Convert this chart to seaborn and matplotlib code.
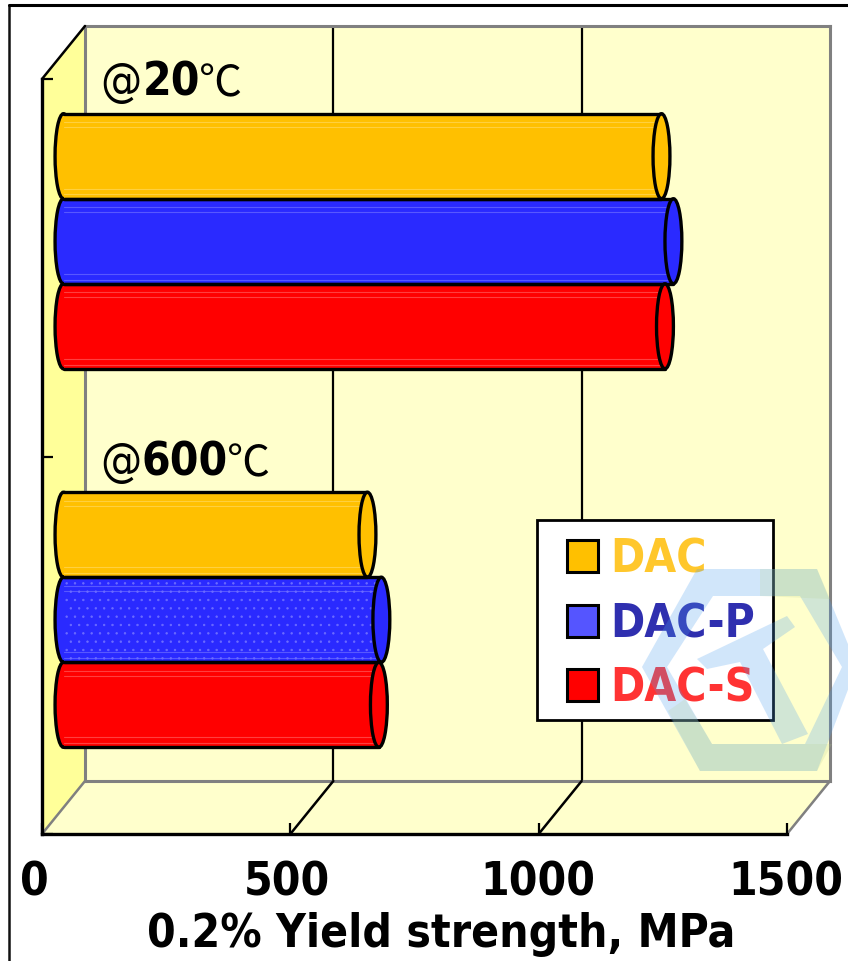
import matplotlib
matplotlib.use('Agg')
import matplotlib.pyplot as plt
from matplotlib.patches import Ellipse, PathPatch, Polygon, Rectangle
from matplotlib.path import Path
from matplotlib.lines import Line2D
from matplotlib.patches import ConnectionPatch
import pandas as pd
import seaborn as sns

temps = ['@20', '@600']
alloys = ['DAC', 'DAC-P', 'DAC-S']
strength_20 = [1204, 1228, 1211]
strength_600 = [612, 640, 635]
xticks = [0, 500, 1000, 1500]
xlabel = '0.2% Yield strength, MPa'

bar_colors = ['#FFC000', '#2A2AFF', '#FF0000']
swatch_colors = ['#FFC000', '#5555FF', '#FF0000']
text_colors = ['#FFC72C', '#2F2FAF', '#FF3333']
shine_colors = ['#FFD75A', '#6C6CFF', '#FF5A5A']

W, H = 848, 962
sns.set_theme(style='white')
plt.rcParams['font.family'] = ['DejaVu Sans']
plt.rcParams['hatch.linewidth'] = 0.5

df = pd.DataFrame({
    'temp': [temps[0]] * 3 + [temps[1]] * 3,
    'alloy': alloys * 2,
    'strength': strength_20 + strength_600,
})


# pixel box of the reference -> figure fractions
def box(x0, y0, x1, y1):
    return [x0 / W, 1 - y1 / H, (x1 - x0) / W, (y1 - y0) / H]


def px(x, y):
    return x / W, 1 - y / H


fig = plt.figure(figsize=(W / 100, H / 100), dpi=100, facecolor='white')

# back wall with the gridlines
ax_back = fig.add_axes(box(85, 27, 830, 782), zorder=1, facecolor='#FFFFCC')
ax_back.set_xlim(0, 1500)
ax_back.set_ylim(0, 1)
ax_back.set_xticks(xticks[1:-1])
ax_back.set_yticks([])
ax_back.tick_params(length=0, labelbottom=False)
ax_back.grid(axis='x', color='black', lw=1.6)
ax_back.set_axisbelow(True)
for s in ax_back.spines.values():
    s.set_color('#808080')
    s.set_linewidth(2.2)

# side wall and floor
fig.add_artist(Polygon([px(42, 80), px(85, 27), px(85, 782), px(42, 835)], closed=True,
                       transform=fig.transFigure, fc='#FFFF99', ec='none', zorder=0.5))
fig.add_artist(Polygon([px(42, 835), px(85, 782), px(830, 782), px(787, 835)], closed=True,
                       transform=fig.transFigure, fc='#FFFFCC', ec='none', zorder=0.5))

# front plane carries the axis lines, ticks and labels
ax_front = fig.add_axes(box(42, 80, 787, 835), zorder=3)
ax_front.patch.set_alpha(0)
ax_front.set_xlim(0, 1500)
ax_front.set_ylim(0, 2)
ax_front.set_yticks([0, 1, 2])
ax_front.set_yticklabels([])
ax_front.set_xticks(xticks)
ax_front.set_xticklabels([])
ax_front.tick_params(axis='both', direction='in', length=8, width=1.6, color='black', left=True, bottom=True)
ax_front.spines['top'].set_visible(False)
ax_front.spines['right'].set_visible(False)
ax_front.spines['left'].set_linewidth(2.4)
ax_front.spines['bottom'].set_linewidth(2.4)
ax_front.spines['left'].set_color('black')
ax_front.spines['bottom'].set_color('black')

tick_font = dict(fontsize=33, fontweight='bold', fontstretch='condensed', color='black')
for v, cx in zip(xticks, [34, 287, 538, 786]):
    fig.text(*px(cx, 883), str(v), ha='center', va='center', **tick_font)
fig.text(*px(441, 935), xlabel, ha='center', va='center', **tick_font)

# depth lines between back wall and front plane
for v in xticks:
    c = '#808080' if v in (0, 1500) else 'black'
    fig.add_artist(ConnectionPatch((v, 0), (v, 0), coordsA=ax_back.transData, coordsB=ax_front.transData,
                                   color=c, lw=1.8, zorder=2))
fig.add_artist(ConnectionPatch((0, 1), (0, 2), coordsA=ax_back.transData, coordsB=ax_front.transData,
                               color='black', lw=1.8, zorder=2))

# bars sit half way into the depth
ax = fig.add_axes(box(63.5, 53, 808.5, 810), zorder=4)
ax.patch.set_alpha(0)
sns.barplot(data=df, y='temp', x='strength', hue='alloy', orient='h', hue_order=alloys,
            palette=bar_colors, saturation=1, width=0.674, legend=False, ax=ax, linewidth=0)
ax.set_xlim(0, 1500)
ax.set_ylim(1.5, -0.5)
ax.axis('off')

for container, col, shine in zip(ax.containers, bar_colors, shine_colors):
    for bar in container:
        x1 = bar.get_width()
        y0 = bar.get_y()
        h = bar.get_height()
        bar.set_zorder(3)
        bar.set_edgecolor('none')
        ax.add_patch(Ellipse((0, y0 + h / 2), 34, h, fc=col, ec='black', lw=2.4, zorder=2, clip_on=False))
        for f in (0.1, 0.16, 0.88, 0.95):
            ax.plot([0, x1], [y0 + f * h] * 2, color=shine, lw=0.8, alpha=0.7, zorder=3.1, clip_on=False)
        ax.plot([0, x1], [y0, y0], color='black', lw=2.4, zorder=4, clip_on=False)
        ax.plot([0, x1], [y0 + h, y0 + h], color='black', lw=2.4, zorder=4, clip_on=False)
        ax.add_patch(Ellipse((x1, y0 + h / 2), 34, h, fc=col, ec='black', lw=2.4, zorder=5, clip_on=False))

# dotted texture on the lower blue bar
ax.containers[1][1].set_hatch('..')
ax.containers[1][1].set_edgecolor('#6C6CFF')
ax.containers[1][1].set_linewidth(0)

# temperature labels
for label, digits, y, x_d, x_c in [(temps[0], '20', 96, 143, 199), (temps[1], '600', 476, 142, 227)]:
    fig.text(*px(100, y), '@', fontsize=33, fontstretch='condensed', color='black', va='baseline', zorder=6)
    fig.text(*px(x_d, y), digits, va='baseline', zorder=6, **tick_font)
    fig.text(*px(x_c, y), '\u2103', fontsize=31, family=['Noto Sans CJK SC', 'DejaVu Sans'], color='black',
             va='baseline', zorder=6)

# legend box
fig.add_artist(Rectangle(px(537, 721), 236 / W, 200 / H, transform=fig.transFigure,
                         fc='white', ec='black', lw=2, zorder=7))
for name, sc, tc, yc in zip(alloys, swatch_colors, text_colors, [556.5, 622, 685.5]):
    fig.add_artist(Rectangle(px(567, yc + 16), 31 / W, 32 / H, transform=fig.transFigure,
                             fc=sc, ec='black', lw=2.2, zorder=8))
    fig.text(*px(610, yc + 16), name, color=tc, va='baseline', zorder=8, fontsize=33, fontweight='bold',
             fontstretch='condensed')

# figure frame, cut at the right and bottom edges of the picture
fig.add_artist(Line2D([9 / W, 9 / W], [0, 1 - 6 / H], color='#111111', lw=1.8, zorder=8))
fig.add_artist(Line2D([9 / W, 1], [1 - 6 / H, 1 - 6 / H], color='black', lw=2.2, zorder=8))

# faint stamp over the lower right corner
ring = [px(697, 570), px(817, 570), px(857, 667), px(817, 772), px(700, 772), px(642, 668), px(697, 570),
        px(713, 597), px(667, 668), px(712, 745), px(805, 745), px(842, 668), px(800, 597), px(713, 597)]
codes = [Path.MOVETO] + [Path.LINETO] * 5 + [Path.CLOSEPOLY] + [Path.MOVETO] + [Path.LINETO] * 5 + [Path.CLOSEPOLY]
fig.add_artist(PathPatch(Path(ring, codes), transform=fig.transFigure, fc='#4F9FEF', ec='none', alpha=0.26, zorder=9))
fig.add_artist(Polygon([px(697, 660), px(787, 617), px(795, 628), px(763, 650), px(808, 735), px(782, 745), px(740, 663), px(707, 670)],
                       closed=True, transform=fig.transFigure, fc='#4F9FEF', ec='none', alpha=0.26, zorder=9))
# greener parts of the stamp
fig.add_artist(Polygon([px(668, 712), px(700, 772), px(817, 772), px(832, 745), px(712, 745), px(685, 700)],
                       closed=True, transform=fig.transFigure, fc='#B5CF8F', ec='none', alpha=0.2, zorder=9))
fig.add_artist(Polygon([px(760, 570), px(817, 570), px(830, 600), px(760, 597)],
                       closed=True, transform=fig.transFigure, fc='#B5CF8F', ec='none', alpha=0.2, zorder=9))

fig.savefig('out.png', dpi=100)
